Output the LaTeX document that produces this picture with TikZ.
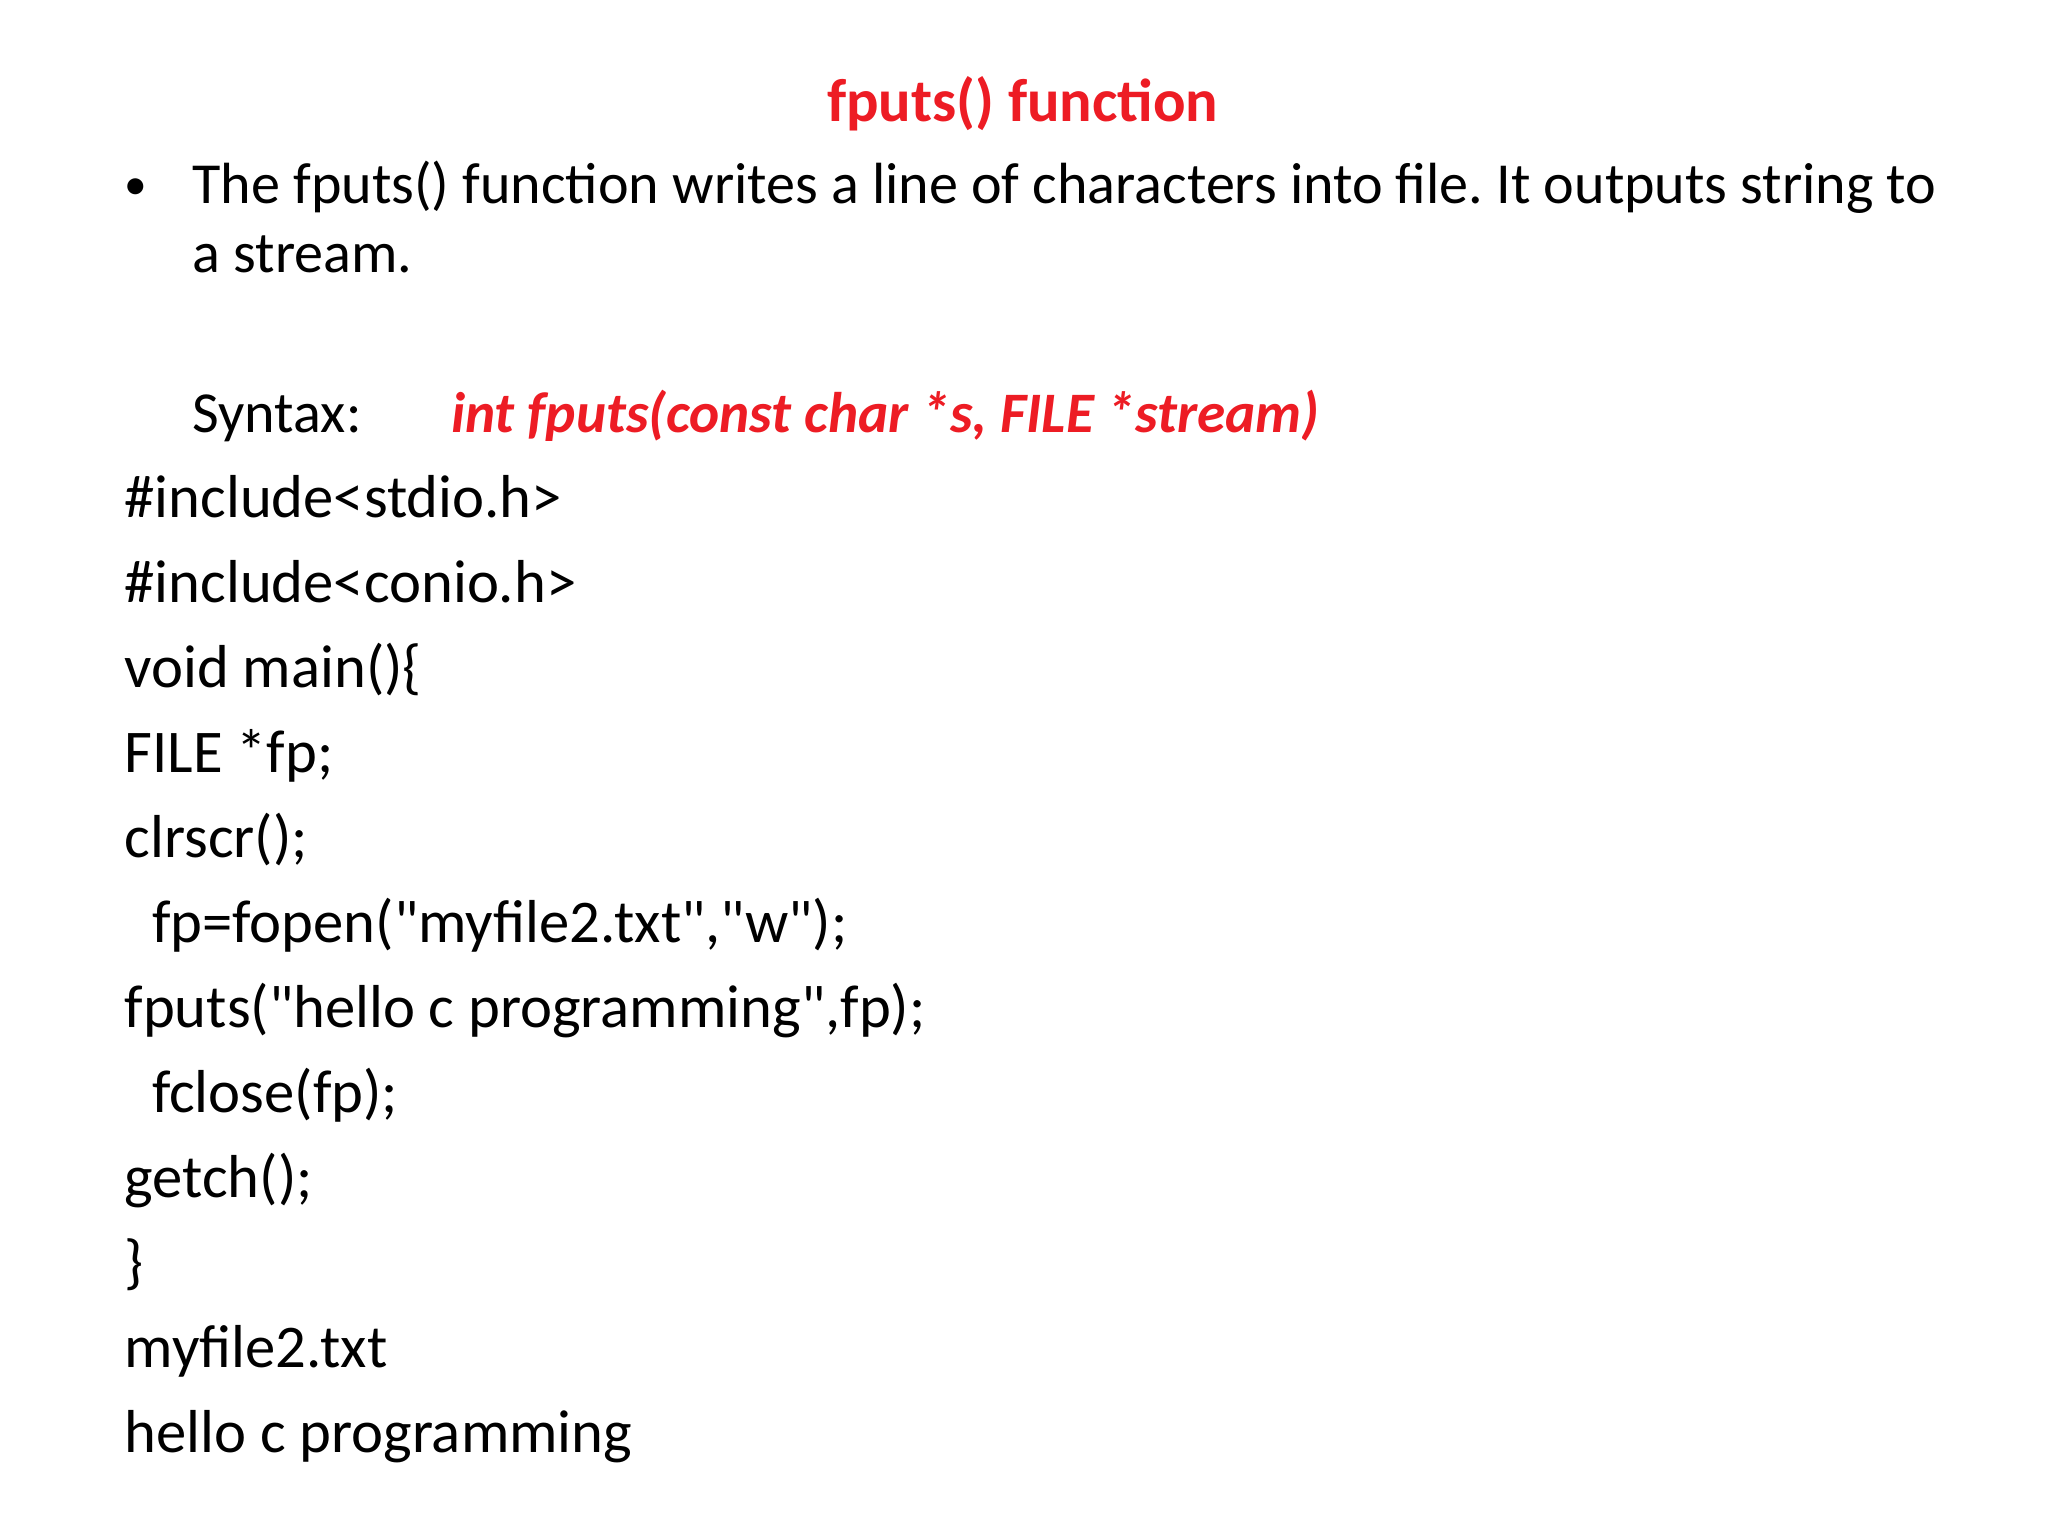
\documentclass[tikz,border=0pt]{standalone}
\usepackage{fontspec}
\setmainfont[Ligatures=TeXReset]{Carlito}
\definecolor{tred}{RGB}{237,28,36}
\newcommand{\dq}{\symbol{34}}
\frenchspacing
\begin{document}
\begin{tikzpicture}[x=0.006378in,y=-0.006378in,
  txt/.style={anchor=base west,inner sep=0pt,font=\fontsize{21.4}{26}\selectfont},
  btxt/.style={anchor=base west,inner sep=0pt,font=\fontsize{20.5}{25}\selectfont},
  red/.style={text=tred,font=\fontsize{21.4}{26}\selectfont\bfseries}]
\useasboundingbox[fill=white] (0,0) rectangle (1568,1176);
\node[red,anchor=base,inner sep=0pt] (title) at (783,93) {fputs() function};
\node[txt,font=\fontsize{16}{20}\selectfont] (bul) at (95,153) {•};
\node[btxt] (l1) at (147,156) {The fputs() function writes a line of characters into file. It outputs string to};
\node[btxt] (l2) at (147,209) {a stream.};
\node[btxt] (syn) at (147,331) {Syntax:};
\node[red,anchor=base west,inner sep=0pt,font=\fontsize{20.2}{26}\selectfont\bfseries\itshape] (sx) at (345,331) {int fputs(const char *s, FILE *stream)};
\foreach \t [count=\i] in {\#include<stdio.h>,\#include<conio.h>,void main()\{,FILE *fp;,clrscr();,\ \ fp=fopen(\dq myfile2.txt\dq{,}\dq w\dq);,fputs(\dq hello c programming\dq{,}fp);,\ \ fclose(fp);,getch();,\},myfile2.txt,hello c programming}
  \node[txt] (c\i) at (95,{396+65.1*(\i-1)}) {\t};
\end{tikzpicture}
\end{document}
